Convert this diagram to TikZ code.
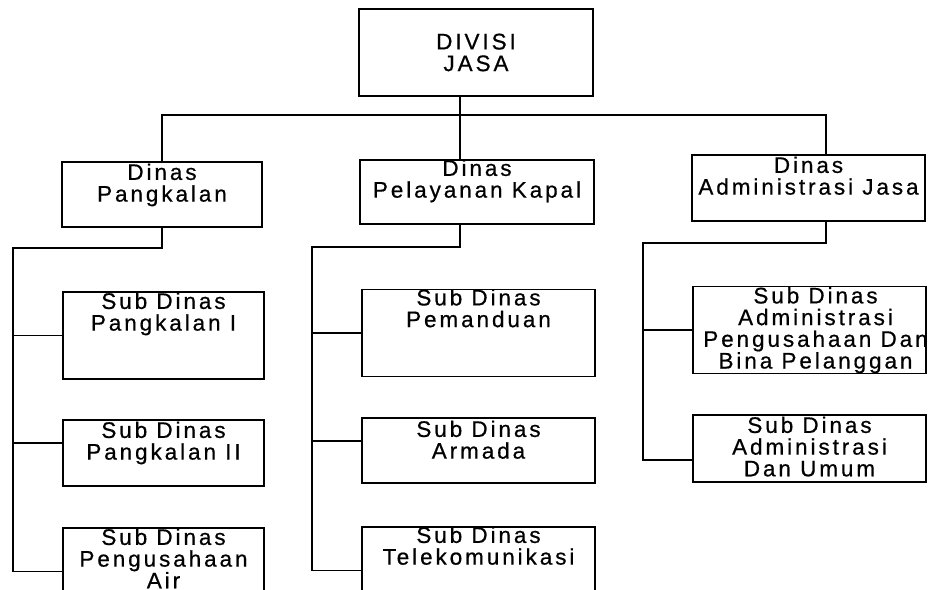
\documentclass[tikz,border=0pt]{standalone}
\usepackage{fontspec}
\newfontfamily\orgfont{Liberation Sans}[LetterSpace=13,FakeBold=0.6]
\usetikzlibrary{positioning}
\tikzset{
  unit/.style={
    draw,
    line width=1.2pt,
    inner sep=0pt
  },
  unitA/.style={unit, minimum width=233pt, minimum height=87pt},
  unitB/.style={unit, minimum width=233pt, minimum height=66pt},
  tie/.style={
    line width=1.2pt
  },
  caption/.style={
    inner sep=0pt,
    align=center,
    font=\orgfont\fontsize{22.5}{21.7}\selectfont
  }
}

\begin{document}
\begin{tikzpicture}[x=1pt,y=-1pt]
  \useasboundingbox (0,0) rectangle (929,589);
  % top
  \node[unitA, minimum width=234pt] (divisi) at (476,52.5) {};
  \node[caption] (divisiT) at (divisi.center) {DIVISI\\JASA};
  % dinas
  \node[unitB, minimum width=200pt, minimum height=65pt] (pang) at (162,194.5) {};
  \node[unitB, minimum width=234pt, minimum height=64pt] (pel) at (477,192) {};
  \node[unitB] (adm) at (808.5,188) {};
  \node[caption, below=2pt of pang.north] (pangT) {Dinas\\Pangkalan};
  \node[caption, below=0pt of pel.north] (pelT) {Dinas\\Pelayanan Kapal};
  \node[caption, below=2pt of adm.north] (admT) {Dinas\\Administrasi Jasa};
  % sub dinas
  \node[unitA, minimum width=201pt] (sub1) at (163.5,335.5) {};
  \node[unitB, minimum width=201pt] (sub2) at (163.5,453) {};
  \node[unitA, minimum width=201pt] (sub3) at (163.5,571.5) {};
  \node[unitA] (pmd) at (478.5,333) {};
  \node[unitB, minimum height=65pt] (arm) at (478.5,450.5) {};
  \node[unitA] (tel) at (478.5,570.5) {};
  \node[unitA] (aph) at (809.5,330) {};
  \node[unitB, minimum height=67pt] (aum) at (809.5,448.5) {};
  \node[caption, below=1pt of sub1.north] (sub1T) {Sub Dinas\\Pangkalan I};
  \node[caption, below=2pt of sub2.north] (sub2T) {Sub Dinas\\Pangkalan II};
  \node[caption, below=1pt of sub3.north] (sub3T) {Sub Dinas\\Pengusahaan\\Air};
  \node[caption, below=0pt of pmd.north] (pmdT) {Sub Dinas\\Pemanduan};
  \node[caption, below=3pt of arm.north] (armT) {Sub Dinas\\Armada};
  \node[caption, below=0pt of tel.north] (telT) {Sub Dinas\\Telekomunikasi};
  \node[caption, below=1pt of aph.north, xshift=6pt] (aphT) {Sub Dinas\\Administrasi\\Pengusahaan Dan\\Bina Pelanggan};
  \node[caption, below=2pt of aum.north] (aumT) {Sub Dinas\\Administrasi\\Dan Umum};
  % connectors
  \coordinate (trunk) at (460,115);
  \draw[tie] (divisi.south -| trunk) -- (trunk |- pel.north);
  \draw[tie] (pang.north) |- (trunk) -| ([xshift=17.5pt]adm.north);
  \coordinate (bus1) at (13,248);
  \coordinate (bus2) at (312,247);
  \coordinate (bus3) at (643,243);
  \coordinate (sub2in) at ([yshift=10pt]sub2.west);
  \coordinate (armin) at ([yshift=9.5pt]arm.west);
  \coordinate (aumin) at ([yshift=-11.5pt]aum.west);
  \draw[tie] (pang.south) |- (bus1) |- (sub3.west);
  \draw[tie] (bus1 |- sub1.west) -- (sub1.west);
  \draw[tie] (bus1 |- sub2in) -- (sub2in);
  \draw[tie] ([xshift=-17pt]pel.south) |- (bus2) |- (tel.west);
  \draw[tie] (bus2 |- pmd.west) -- (pmd.west);
  \draw[tie] (bus2 |- armin) -- (armin);
  \draw[tie] ([xshift=17.5pt]adm.south) |- (bus3) |- (aumin);
  \draw[tie] (bus3 |- aph.west) -- (aph.west);
\end{tikzpicture}
\end{document}
